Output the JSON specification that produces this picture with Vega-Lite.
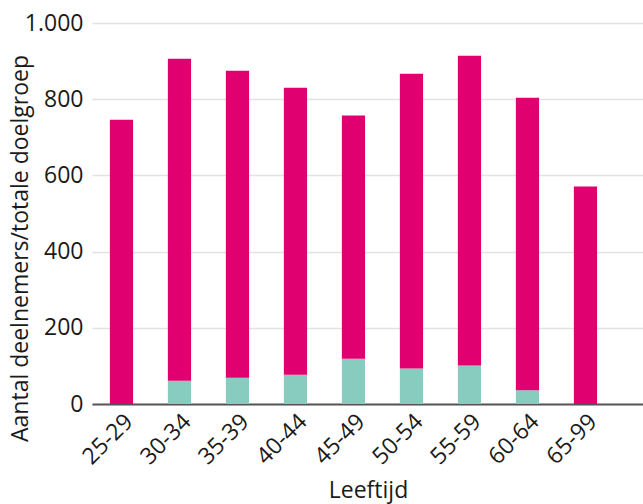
{
  "$schema": "https://vega.github.io/schema/vega-lite/v6.json",
  "width": 551,
  "height": 381,
  "autosize": "none",
  "padding": {"left": 92, "top": 23, "right": 0, "bottom": 100},
  "background": "white",
  "data": {
    "values": [
      {"leeftijd": "25-29", "groep": "deelnemers", "ord": 1, "aantal": 0},
      {"leeftijd": "25-29", "groep": "overig", "ord": 2, "aantal": 746},
      {"leeftijd": "30-34", "groep": "deelnemers", "ord": 1, "aantal": 61},
      {"leeftijd": "30-34", "groep": "overig", "ord": 2, "aantal": 845},
      {"leeftijd": "35-39", "groep": "deelnemers", "ord": 1, "aantal": 69},
      {"leeftijd": "35-39", "groep": "overig", "ord": 2, "aantal": 806},
      {"leeftijd": "40-44", "groep": "deelnemers", "ord": 1, "aantal": 77},
      {"leeftijd": "40-44", "groep": "overig", "ord": 2, "aantal": 753},
      {"leeftijd": "45-49", "groep": "deelnemers", "ord": 1, "aantal": 119},
      {"leeftijd": "45-49", "groep": "overig", "ord": 2, "aantal": 638},
      {"leeftijd": "50-54", "groep": "deelnemers", "ord": 1, "aantal": 93},
      {"leeftijd": "50-54", "groep": "overig", "ord": 2, "aantal": 774},
      {"leeftijd": "55-59", "groep": "deelnemers", "ord": 1, "aantal": 101},
      {"leeftijd": "55-59", "groep": "overig", "ord": 2, "aantal": 813},
      {"leeftijd": "60-64", "groep": "deelnemers", "ord": 1, "aantal": 36},
      {"leeftijd": "60-64", "groep": "overig", "ord": 2, "aantal": 768},
      {"leeftijd": "65-99", "groep": "deelnemers", "ord": 1, "aantal": 0},
      {"leeftijd": "65-99", "groep": "overig", "ord": 2, "aantal": 571}
    ]
  },
  "mark": {"type": "bar"},
  "encoding": {
    "x": {
      "field": "leeftijd",
      "type": "nominal",
      "sort": null,
      "scale": {"paddingInner": 0.6, "paddingOuter": 0.55, "align": 0.28},
      "axis": {
        "title": "Leeftijd",
        "titleFontSize": 23,
        "titleFontWeight": "normal",
        "titleFont": "Open Sans",
        "titleColor": "#1a1a1a",
        "titleX": 276,
        "titleY": 93,
        "titleBaseline": "alphabetic",
        "labelAngle": -45,
        "labelFontSize": 23,
        "labelFont": "Open Sans",
        "labelColor": "#1a1a1a",
        "labelPadding": 6,
        "labelOverlap": false,
        "ticks": false,
        "domainColor": "#555555",
        "domainWidth": 2
      }
    },
    "y": {
      "field": "aantal",
      "type": "quantitative",
      "stack": "zero",
      "scale": {"domain": [0, 1000]},
      "axis": {
        "title": "Aantal deelnemers/totale doelgroep",
        "titleFontSize": 23,
        "titleFontWeight": "normal",
        "titleFont": "Open Sans",
        "titleColor": "#1a1a1a",
        "titleX": -72,
        "titleY": 225,
        "titleAngle": -90,
        "titleBaseline": "middle",
        "values": [0, 200, 400, 600, 800, 1000],
        "labelExpr": "replace(format(datum.value, ','), ',', '.')",
        "labelFontSize": 23,
        "labelFont": "Open Sans",
        "labelColor": "#1a1a1a",
        "labelPadding": 9,
        "labelOverlap": false,
        "labelFlush": false,
        "ticks": false,
        "domain": false,
        "grid": true,
        "gridColor": "#e2e2e2",
        "gridWidth": 1.5
      }
    },
    "color": {
      "field": "groep",
      "type": "nominal",
      "scale": {"domain": ["deelnemers", "overig"], "range": ["#88ccbf", "#e0006f"]},
      "legend": null
    },
    "order": {"field": "ord", "type": "quantitative"}
  },
  "config": {"view": {"stroke": null}}
}
